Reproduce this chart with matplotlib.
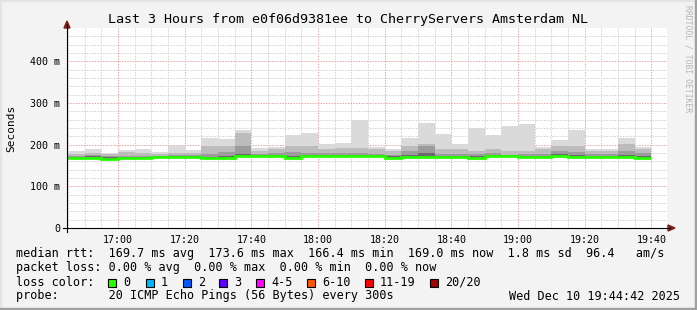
import numpy as np
import matplotlib
matplotlib.use('Agg')
from matplotlib import pyplot as plt
from matplotlib.patches import Polygon, Rectangle
from matplotlib.lines import Line2D

# 5 minute steps, 20 pings per step (values in ms)
times = ['16:45', '16:50', '16:55', '17:00', '17:05', '17:10', '17:15', '17:20', '17:25',
         '17:30', '17:35', '17:40', '17:45', '17:50', '17:55', '18:00', '18:05', '18:10',
         '18:15', '18:20', '18:25', '18:30', '18:35', '18:40', '18:45', '18:50', '18:55',
         '19:00', '19:05', '19:10', '19:15', '19:20', '19:25', '19:30', '19:35']
median = [168.0, 168.5, 166.4, 167.6, 167.6, 170.0, 171.6, 170.0, 167.0, 167.0, 172.0, 172.8,
          173.0, 169.0, 173.0, 172.8, 172.0, 173.0, 172.0, 169.0, 170.0, 170.0, 170.0, 170.0,
          169.0, 172.0, 172.0, 170.0, 170.0, 173.6, 169.6, 169.6, 169.6, 170.0, 169.0]
smoke_low = [165.5, 166.0, 164.0, 165.0, 165.0, 167.5, 169.0, 167.5, 164.5, 164.5, 169.5, 170.0,
             170.5, 166.5, 170.5, 170.0, 169.5, 170.5, 169.5, 166.5, 167.5, 167.5, 167.5, 167.5,
             166.5, 169.5, 169.5, 167.5, 167.5, 171.0, 167.0, 167.0, 167.0, 167.5, 166.5]
smoke_inner = [171.0, 172.0, 169.5, 171.5, 171.5, 172.5, 174.0, 173.0, 171.0, 172.0, 177.0, 175.5,
               176.0, 173.0, 176.0, 175.5, 175.0, 176.0, 175.0, 172.5, 175.0, 180.0, 173.5, 174.0,
               172.5, 175.0, 174.5, 174.0, 174.0, 177.0, 175.0, 172.5, 172.5, 176.0, 172.5]
smoke_dark = [173.6, 174.4, 172.8, 174.0, 174.0, 173.6, 176.0, 176.0, 178.0, 182.0, 198.0, 178.0,
              181.0, 182.0, 181.0, 181.0, 181.0, 181.0, 178.0, 176.0, 186.0, 198.0, 178.0, 178.0,
              178.0, 181.0, 176.0, 178.0, 178.0, 184.0, 182.0, 178.0, 178.0, 184.0, 181.0]
smoke_mid = [178.4, 179.2, 176.8, 181.6, 179.2, 177.6, 180.8, 180.8, 198.0, 198.0, 229.0, 186.0,
             190.0, 198.0, 198.0, 189.0, 192.0, 192.0, 189.0, 184.0, 198.0, 202.0, 189.0, 190.0,
             186.0, 190.0, 184.0, 184.0, 189.0, 198.0, 198.0, 185.0, 186.0, 202.0, 190.0]
smoke_top = [186, 190, 181, 188, 190, 182, 197, 187, 216, 213, 236, 192, 195, 223, 228, 202, 204,
             260, 195, 189, 216, 252, 226, 202, 239, 223, 245, 250, 194, 211, 236, 189, 190, 217, 194]

y_ticks = [0, 100, 200, 300, 400]
y_tick_labels = ['0', '100 m', '200 m', '300 m', '400 m']
x_tick_labels = ['17:00', '17:20', '17:40', '18:00', '18:20', '18:40', '19:00', '19:20', '19:40']

loss_labels = ['0', '1', '2', '3', '4-5', '6-10', '11-19', '20/20']
loss_colors = ['#26ff00', '#00b8ff', '#0059ff', '#5e00ff', '#ff00ff', '#ff5500', '#ff0000', '#a10000']

title = 'Last 3 Hours from e0f06d9381ee to CherryServers Amsterdam NL'
rtt_line = 'median rtt:  169.7 ms avg  173.6 ms max  166.4 ms min  169.0 ms now  1.8 ms sd  96.4   am/s'
loss_line = 'packet loss: 0.00 % avg  0.00 % max  0.00 % min  0.00 % now'
probe_line = 'probe:       20 ICMP Echo Pings (56 Bytes) every 300s'
stamp = 'Wed Dec 10 19:44:42 2025'

def to_min(t):
    return int(t[:2]) * 60 + int(t[3:])

starts = np.array([to_min(t) for t in times])
edges = np.append(starts, starts[-1] + 5)
t0 = to_min('16:44') + 42 / 60.0
t1 = to_min('19:44') + 42 / 60.0

W, H = 697, 310
MONO = 'DejaVu Sans Mono'
fig = plt.figure(figsize=(W / 100, H / 100), dpi=100, facecolor='#f3f3f3')

def fx(x):
    return x / W

def fy(y):
    return 1 - y / H

ax = fig.add_axes([fx(67), fy(228), fx(600), 200 / H])
ax.set_facecolor('white')
ax.set_xlim(t0, t1)
ax.set_ylim(0, 480)

# grid
for m in np.arange(45, t1, 5):
    major = (m % 20 == 0)
    ax.axvline(m, color='#f0a0a0' if major else '#cfcfcf', lw=0.7, ls=(0, (1.4, 1.4)), zorder=0)
for v in range(20, 480, 20):
    major = (v % 100 == 0)
    ax.axhline(v, color='#f0a0a0' if major else '#cfcfcf', lw=0.7, ls=(0, (1.4, 1.4)), zorder=0)

# smoke
ax.stairs(smoke_top, edges, baseline=smoke_mid, fill=True, color='#dadada', zorder=2)
ax.stairs(smoke_mid, edges, baseline=smoke_dark, fill=True, color='#bcbcbc', zorder=2)
ax.stairs(smoke_dark, edges, baseline=smoke_inner, fill=True, color='#9c9c9c', zorder=2)
ax.stairs(smoke_inner, edges, baseline=smoke_low, fill=True, color='#6a6a6a', zorder=2)
# median coloured by loss (all 0 loss)
ax.stairs(median, edges, baseline=None, color=loss_colors[0], lw=2.0, zorder=3)

for s in ax.spines.values():
    s.set_visible(False)
ax.set_xticks([to_min(t) for t in x_tick_labels])
ax.set_xticklabels(x_tick_labels, fontfamily=MONO, fontsize=7.2)
ax.set_yticks(y_ticks)
ax.set_yticklabels(y_tick_labels, fontfamily=MONO, fontsize=7.2)
ax.tick_params(length=0, pad=5)
ax.set_ylabel('Seconds', fontfamily=MONO, fontsize=8, labelpad=10)

# axes with arrows
fig.add_artist(Line2D([fx(67), fx(67)], [fy(232), fy(24)], color='black', lw=0.8))
fig.add_artist(Line2D([fx(63), fx(670)], [fy(228), fy(228)], color='black', lw=0.8))
fig.add_artist(Polygon([[fx(64), fy(28)], [fx(70), fy(28)], [fx(67), fy(21)]], closed=True,
                       color='#7f1f1f', transform=fig.transFigure))
fig.add_artist(Polygon([[fx(668), fy(225)], [fx(668), fy(231)], [fx(675), fy(228)]], closed=True,
                       color='#7f1f1f', transform=fig.transFigure))

fig.text(fx(348), fy(19), title, ha='center', va='center', fontfamily=MONO, fontsize=9.6)
fig.text(fx(688), fy(5), 'RRDTOOL / TOBI OETIKER', ha='center', va='top', rotation=270,
         fontfamily=MONO, fontsize=5.8, color='#b4b4b4')

fig.text(fx(16), fy(254), rtt_line, va='center', fontfamily=MONO, fontsize=8.5)
fig.text(fx(16), fy(268), loss_line, va='center', fontfamily=MONO, fontsize=8.5)
fig.text(fx(16), fy(282), 'loss color:', va='center', fontfamily=MONO, fontsize=8.5)
box_x = [108, 146, 183, 219, 256, 307, 365, 430]
for bx, lab, col in zip(box_x, loss_labels, loss_colors):
    fig.add_artist(Rectangle((fx(bx), fy(286.5)), fx(8), 8 / H, facecolor=col,
                             edgecolor='black', lw=0.8, transform=fig.transFigure))
    fig.text(fx(bx + 15), fy(282), lab, va='center', fontfamily=MONO, fontsize=8.5)
fig.text(fx(16), fy(296), probe_line, va='center', fontfamily=MONO, fontsize=8.5)
fig.text(fx(680), fy(296), stamp, ha='right', va='center', fontfamily=MONO, fontsize=8.5)

# bevelled frame
fig.add_artist(Rectangle((0, fy(1)), 1, 1 / H, color='#e4e4e4', transform=fig.transFigure))
fig.add_artist(Rectangle((0, 0), fx(1), 1, color='#e4e4e4', transform=fig.transFigure))
fig.add_artist(Rectangle((0, 0), 1, 2 / H, color='#a0a0a0', transform=fig.transFigure))
fig.add_artist(Rectangle((fx(695), 0), fx(2), 1, color='#a0a0a0', transform=fig.transFigure))

fig.savefig('out.png', dpi=100, facecolor=fig.get_facecolor())
